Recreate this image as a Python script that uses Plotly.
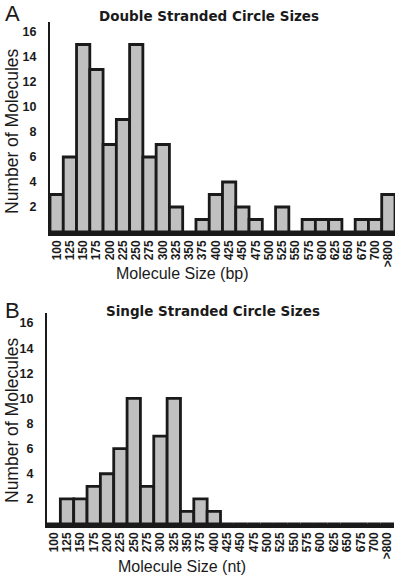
import plotly.graph_objects as go

categories = ["100", "125", "150", "175", "200", "225", "250", "275", "300", "325",
              "350", "375", "400", "425", "450", "475", "500", "525", "550", "575",
              "600", "625", "650", "675", "700", ">800"]
double_counts = [3, 6, 15, 13, 7, 9, 15, 6, 7, 2, 0, 1, 3, 4, 2, 1, 0, 2, 0, 1, 1, 1, 0, 1, 1, 3]
single_counts = [0, 2, 2, 3, 4, 6, 10, 3, 7, 10, 1, 2, 1, 0, 0, 0, 0, 0, 0, 0, 0, 0, 0, 0, 0, 0]
y_ticks = [2, 4, 6, 8, 10, 12, 14, 16]

W, H = 400, 579
BAR_FILL = "#c0c0c0"
EDGE = "#1a1a1a"

fig = go.Figure()
fig.add_trace(go.Bar(x=categories, y=double_counts, xaxis="x", yaxis="y",
                     marker=dict(color=BAR_FILL, line=dict(color=EDGE, width=2.8)),
                     cliponaxis=False, showlegend=False, hoverinfo="skip"))
fig.add_trace(go.Bar(x=categories, y=single_counts, xaxis="x2", yaxis="y2",
                     marker=dict(color=BAR_FILL, line=dict(color=EDGE, width=2.8)),
                     cliponaxis=False, showlegend=False, hoverinfo="skip"))

def px_y(py):
    return 1 - py / H

def px_x(px):
    return px / W

xcommon = dict(type="category", showline=True, linecolor=EDGE, linewidth=3.5,
               showgrid=False, zeroline=False, ticks="", tickangle=-90, automargin=False,
               tickmode="array", tickvals=categories, ticktext=categories,
               tickfont=dict(family="Liberation Sans, Arial", size=12, color="#1a1a1a", weight="bold"),
               range=[-0.5, 25.5], fixedrange=True)
ycommon = dict(showline=True, linecolor=EDGE, linewidth=2, showgrid=False, zeroline=False,
               ticks="", tickvals=y_ticks, range=[0, 16.8], ticklabelstandoff=9, automargin=False,
               tickfont=dict(family="Liberation Sans, Arial", size=12.5, color="#1a1a1a", weight="bold"),
               fixedrange=True)

fig.update_layout(
    width=W, height=H,
    margin=dict(l=0, r=0, t=0, b=0, autoexpand=False),
    paper_bgcolor="white", plot_bgcolor="white",
    bargap=0,
    xaxis=dict(xcommon, domain=[px_x(50), px_x(395)], anchor="y"),
    yaxis=dict(ycommon, domain=[px_y(232), px_y(22)], anchor="x"),
    xaxis2=dict(xcommon, domain=[px_x(47), px_x(394)], anchor="y2"),
    yaxis2=dict(ycommon, domain=[px_y(524), px_y(313)], anchor="x2"),
)

def ann(text, x, y, size, family="Liberation Sans, Arial", weight="normal", angle=0):
    fig.add_annotation(text=text, x=px_x(x), y=px_y(y), xref="paper", yref="paper",
                       showarrow=False, textangle=angle, xanchor="center", yanchor="middle",
                       font=dict(family=family, size=size, color="#1a1a1a", weight=weight))

ann("A", 12, 13, 22)
ann("B", 12, 310, 22)
ann("Double Stranded Circle Sizes", 209, 16, 13.5, family="DejaVu Sans", weight="bold")
ann("Single Stranded Circle Sizes", 213, 311, 13.5, family="DejaVu Sans", weight="bold")
ann("Number of Molecules", 12, 131, 17.5, angle=-90)
ann("Number of Molecules", 12, 420, 17.5, angle=-90)
ann("Molecule Size (bp)", 182, 273, 16)
ann("Molecule Size (nt)", 182, 566, 16)

fig.write_html("out.html", config={"displayModeBar": False, "staticPlot": True},
               post_script="document.body.style.margin='0';")
